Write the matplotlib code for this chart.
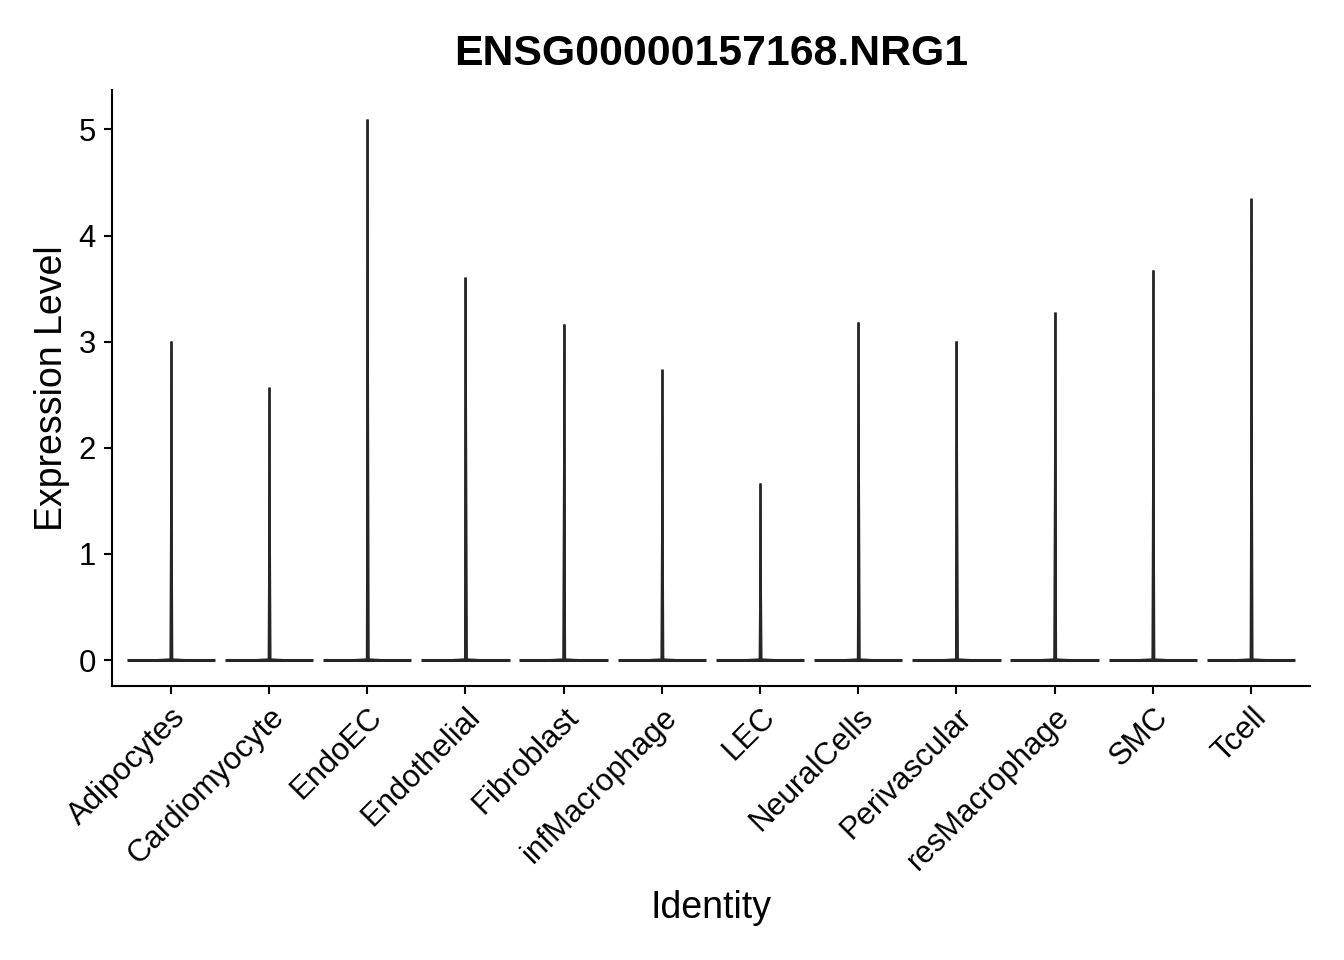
import matplotlib
matplotlib.use("Agg")
import matplotlib.pyplot as plt
import numpy as np

plt.rcParams['font.family'] = ['Liberation Sans', 'DejaVu Sans']

categories = ["Adipocytes", "Cardiomyocyte", "EndoEC", "Endothelial", "Fibroblast",
              "infMacrophage", "LEC", "NeuralCells", "Perivascular", "resMacrophage",
              "SMC", "Tcell"]
max_expr = [3.01, 2.57, 5.10, 3.61, 3.17, 2.74, 1.67, 3.19, 3.01, 3.28, 3.68, 4.35]
yticks = [0, 1, 2, 3, 4, 5]

fig = plt.figure(figsize=(6.72, 4.8), dpi=200)
ax = fig.add_axes([0.0833, 0.2854, 0.8914, 0.6206])

xs = np.arange(1, len(categories) + 1)
col = "#262626"
for x, m in zip(xs, max_expr):
    # flat violin: wide at zero, a thin stalk up to the max
    ax.fill_betweenx([0, 0.02, m], [x - 0.45, x - 0.02, x - 0.006], [x + 0.45, x + 0.02, x + 0.006],
                     color=col, linewidth=0)
    ax.plot([x - 0.45, x + 0.45], [0, 0], color=col, lw=1.1, solid_capstyle='butt')
    ax.plot([x, x], [0, m], color=col, lw=1.0, solid_capstyle='butt')

ax.set_xlim(0.4, len(categories) + 0.6)
ax.set_ylim(-0.245, 5.37)
ax.set_xticks(xs)
ax.set_xticklabels(categories, rotation=45, ha='right', va='top', rotation_mode='anchor', fontsize=11.2)
ax.set_yticks(yticks)
ax.set_yticklabels([str(v) for v in yticks], fontsize=11.2)
ax.tick_params(axis='both', width=0.75, length=3.0, pad=2.8, color='black', labelcolor='black')
for s in ['top', 'right']:
    ax.spines[s].set_visible(False)
for s in ['left', 'bottom']:
    ax.spines[s].set_linewidth(0.75)
ax.set_xlabel("Identity", fontsize=13.5, labelpad=5)
ax.set_ylabel("Expression Level", fontsize=13.5, labelpad=3)
ax.set_title("ENSG00000157168.NRG1", fontsize=15.4, fontweight='bold', pad=9)

fig.savefig("out.png", dpi=200)
